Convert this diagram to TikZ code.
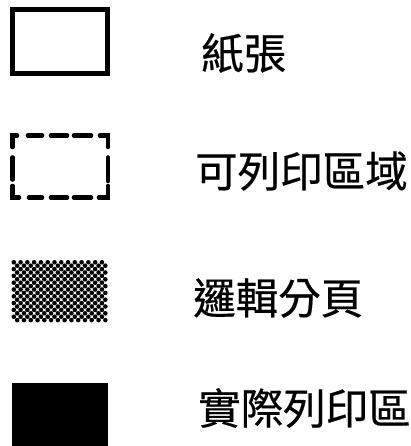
\documentclass[tikz,border=0pt]{standalone}
\usepackage{fontspec}
\newfontfamily\cjk[FakeBold=0.5]{Noto Sans CJK TC}
\begin{document}
\begin{tikzpicture}[x=1pt,y=-1pt,
  legtext/.style={anchor=west,inner sep=0pt,font=\cjk\fontsize{42.5}{42.5}\selectfont},
  dashseg/.style={line width=4.6pt,line cap=round,line join=miter}]
\useasboundingbox (0,0) rectangle (411,446);
\fill[white] (0,0) rectangle (411,446);
% paper
\node[draw,line width=5pt,minimum width=95pt,minimum height=64pt,inner sep=0pt] (paper) at (60,41.5) {};
% printable area (dashed)
\coordinate (pa) at (60,166.5);
\draw[dashseg] (12.5,147) -- (12.5,135.5) -- (17,135.5);
\draw[dashseg] (28,135.5) -- (42,135.5);
\draw[dashseg] (51,135.5) -- (67,135.5);
\draw[dashseg] (74,135.5) -- (91,135.5);
\draw[dashseg] (100,135.5) -- (108,135.5) -- (108,147);
\draw[dashseg] (12.5,157.5) -- (12.5,179.5);
\draw[dashseg] (108,157.5) -- (108,181);
\draw[dashseg] (12.5,186) -- (12.5,197.5) -- (19,197.5);
\draw[dashseg] (29,197.5) -- (42,197.5);
\draw[dashseg] (51,197.5) -- (67,197.5);
\draw[dashseg] (74,197.5) -- (91,197.5);
\draw[dashseg] (99,197.5) -- (108,197.5) -- (108,186);
% logical page (dots)
\coordinate (lp) at (60,291.5);
\foreach \i in {0,...,27}{
  \foreach \j in {0,...,17}{
    \pgfmathtruncatemacro{\dotpar}{mod(\i+\j,2)}
    \ifnum\dotpar=0
      \fill ({13.8+\i*3.39},{262.3+\j*3.4}) circle (2.3pt);
    \fi
  }
}
% actual print area
\fill (11.5,383) rectangle (108,446);
\coordinate (ap) at (60,414);
% labels
\node[legtext] (t1) at (201,53) {紙張};
\node[legtext] (t2) at (195,171) {可列印區域};
\node[legtext] (t3) at (193,298) {邏輯分頁};
\node[legtext] (t4) at (198,408) {實際列印區};
\end{tikzpicture}
\end{document}
